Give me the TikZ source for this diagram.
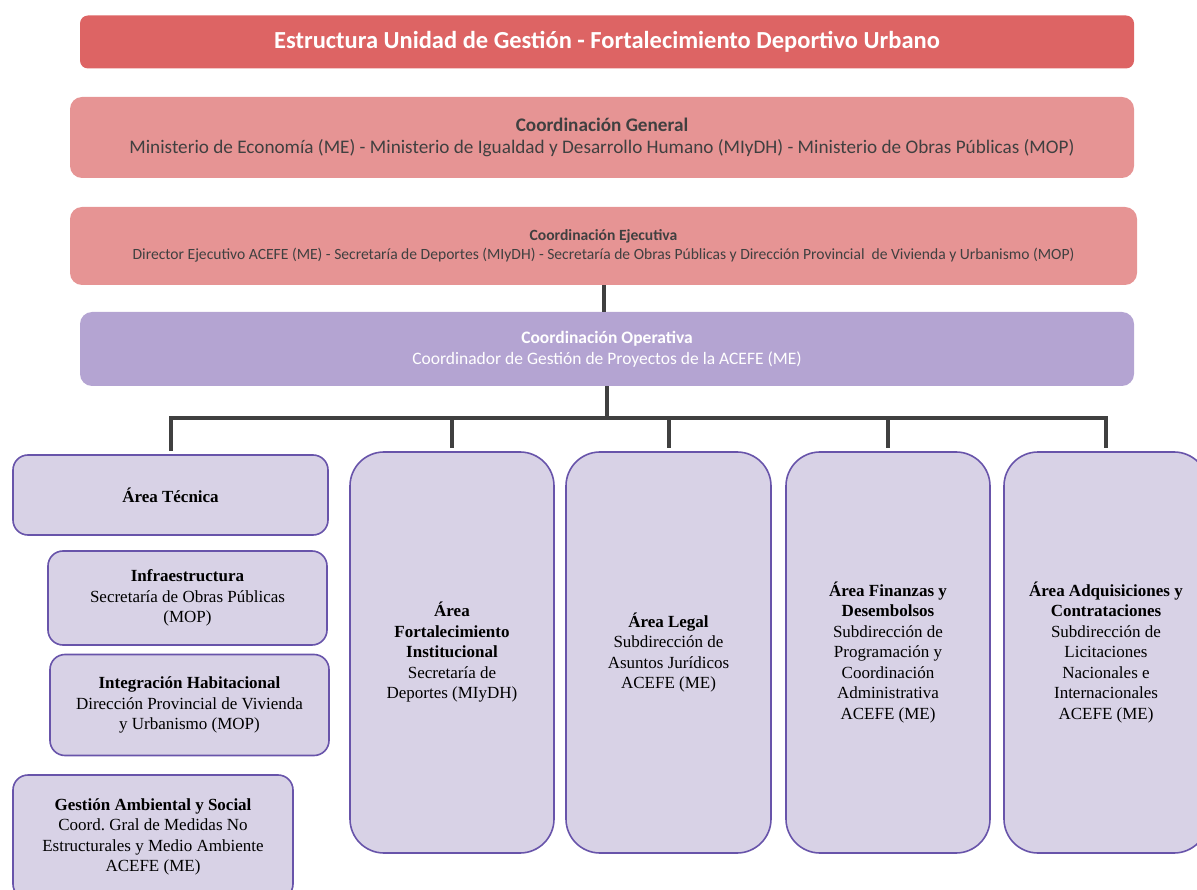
\documentclass[tikz,border=0pt]{standalone}
\usepackage{fontspec}
\setmainfont{Liberation Serif}
\newfontfamily\calib{Carlito}

\definecolor{titlered}{RGB}{221,100,100}
\definecolor{coordpink}{RGB}{230,148,148}
\definecolor{coordgray}{RGB}{64,64,64}
\definecolor{operlilac}{RGB}{180,164,210}
\definecolor{areafill}{RGB}{216,210,230}
\definecolor{areaborder}{RGB}{104,84,170}
\definecolor{linkgray}{RGB}{64,64,64}

\begin{document}
\begin{tikzpicture}[x=1pt,y=-1pt]

    \tikzstyle{every node}=[align=center, inner sep=0pt]
    \tikzstyle{titlebox}=[rectangle, rounded corners=8pt, fill=titlered, text=white]
    \tikzstyle{coordbox}=[rectangle, rounded corners=12pt, fill=coordpink, text=coordgray]
    \tikzstyle{areabox}=[rectangle, rounded corners=15pt, draw=areaborder, line width=1.6pt, fill=areafill, font=\fontsize{17}{20.5}\selectfont]
    \tikzstyle{tallbox}=[areabox, rounded corners=34pt, minimum width=204pt, minimum height=401pt]
    \tikzstyle{linkline}=[draw=linkgray, line width=4pt]

    \useasboundingbox (0,0) rectangle (1197,890);

    \node (title) [titlebox, minimum width=1054pt, minimum height=53pt,
        font=\calib\bfseries\fontsize{24.5}{28}\selectfont] at (607,42)
        {Estructura Unidad de Gestión - Fortalecimiento Deportivo Urbano};

    \node (general) [coordbox, minimum width=1064pt, minimum height=81pt,
        font=\calib\fontsize{19.2}{22}\selectfont] at (602,137.5)
        {\textbf{Coordinación General}\\
         Ministerio de Economía (ME) - Ministerio de Igualdad y Desarrollo Humano (MIyDH) - Ministerio de Obras Públicas (MOP)};

    \node (ejec) [coordbox, minimum width=1067pt, minimum height=78pt,
        font=\calib\fontsize{15.6}{19}\selectfont] at (603.5,246)
        {\textbf{Coordinación Ejecutiva}\\
         Director Ejecutivo ACEFE (ME) - Secretaría de Deportes (MIyDH) - Secretaría de Obras Públicas y Dirección Provincial~ de Vivienda y Urbanismo (MOP)};

    \node (oper) [coordbox, fill=operlilac, text=white, minimum width=1054pt, minimum height=74pt,
        font=\calib\fontsize{17.5}{21}\selectfont] at (607,349)
        {\textbf{Coordinación Operativa}\\
         Coordinador de Gestión de Proyectos de la ACEFE (ME)};

    \node (tecnica) [areabox, minimum width=315pt, minimum height=80pt] at (170.5,495)
        {\textbf{Área Técnica}};

    \node (infra) [areabox, minimum width=279pt, minimum height=94pt] at (187.5,598)
        {\textbf{Infraestructura}\\ Secretaría de Obras Públicas\\ (MOP)};

    \node (habit) [areabox, minimum width=279pt, minimum height=101pt] at (189.5,705)
        {\textbf{Integración Habitacional}\\ Dirección Provincial de Vivienda\\ y Urbanismo (MOP)};

    \node (ambiental) [areabox, minimum width=280pt, minimum height=124pt] at (153,837)
        {\textbf{Gestión Ambiental y Social}\\ Coord.\ Gral de Medidas No\\ Estructurales y Medio Ambiente\\ ACEFE (ME)};

    \node (fortal) [tallbox] at (452,652.5)
        {\textbf{Área}\\ \textbf{Fortalecimiento}\\ \textbf{Institucional}\\ Secretaría de\\ Deportes (MIyDH)};

    \node (legal) [tallbox, minimum width=205pt] at (668.5,652.5)
        {\textbf{Área Legal}\\ Subdirección de\\ Asuntos Jurídicos\\ ACEFE (ME)};

    \node (finanzas) [tallbox] at (888,652.5)
        {\textbf{Área Finanzas y}\\ \textbf{Desembolsos}\\ Subdirección de\\ Programación y\\ Coordinación\\ Administrativa\\ ACEFE (ME)};

    \node (adquis) [tallbox] at (1106,652.5)
        {\textbf{Área Adquisiciones y}\\ \textbf{Contrataciones}\\ Subdirección de\\ Licitaciones\\ Nacionales e\\ Internacionales\\ ACEFE (ME)};

    \coordinate (bus) at (607,418);

    \draw[linkline] (ejec.south) -- (ejec.south |- oper.north);
    \draw[linkline] (oper.south) -- (bus);
    \foreach \n in {tecnica,fortal,legal,finanzas,adquis}
        \draw[linkline, shorten >=3pt] (bus) -| (\n.north);

\end{tikzpicture}
\end{document}
